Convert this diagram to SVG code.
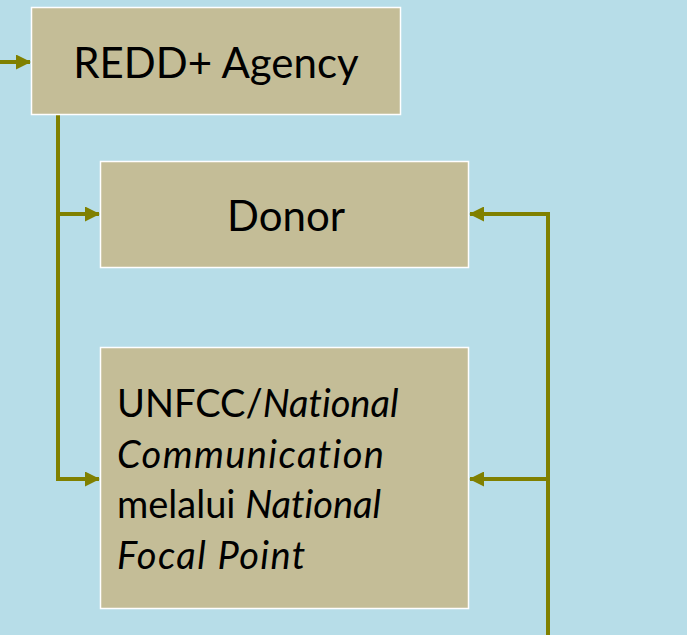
<svg xmlns="http://www.w3.org/2000/svg" width="687" height="635" viewBox="0 0 687 635">
<defs>
<marker id="ah" markerWidth="15" markerHeight="15" refX="14" refY="7.5" orient="auto" markerUnits="userSpaceOnUse">
<path d="M0,0 L15,7.5 L0,15 Z" fill="#808000"/>
</marker>
<style>
.box{fill:#C4BD97;stroke:#FFFFFF;stroke-width:1.5}
.t{font-family:Lato,"Open Sans",sans-serif;fill:#000;font-variant-ligatures:none}
.c{fill:none;stroke:#808000;stroke-width:4}
.ls{letter-spacing:1.4px}
</style>
</defs>
<rect width="687" height="635" fill="#B7DDE8"/>
<g id="connectors">
<path class="c" d="M0,62 L30,62" marker-end="url(#ah)"/>
<path class="c" d="M58,115 L58,479 L99,479" marker-end="url(#ah)"/>
<path class="c" d="M58,214 L99,214" marker-end="url(#ah)"/>
<path class="c" d="M548,635 L548,214 L470,214" marker-end="url(#ah)"/>
<path class="c" d="M548,479 L470,479" marker-end="url(#ah)"/>
</g>
<g id="redd">
<rect class="box" x="31.5" y="7.5" width="369" height="107"/>
<text class="t" x="216" y="78" font-size="42" text-anchor="middle">REDD+ Agency</text>
</g>
<g id="donor">
<rect class="box" x="100.5" y="161.5" width="368" height="106"/>
<text class="t" x="286" y="231" font-size="42" text-anchor="middle">Donor</text>
</g>
<g id="unfcc">
<rect class="box" x="100.5" y="347.5" width="368" height="261"/>
<text class="t" font-size="38">
<tspan x="117" y="417">UNFCC/<tspan font-style="italic">National</tspan></tspan>
<tspan x="117" y="468" font-style="italic" class="ls">Communication</tspan>
<tspan x="117" y="518">melalui <tspan font-style="italic">National</tspan></tspan>
<tspan x="117" y="569" font-style="italic" class="ls">Focal Point</tspan>
</text>
</g>
</svg>
